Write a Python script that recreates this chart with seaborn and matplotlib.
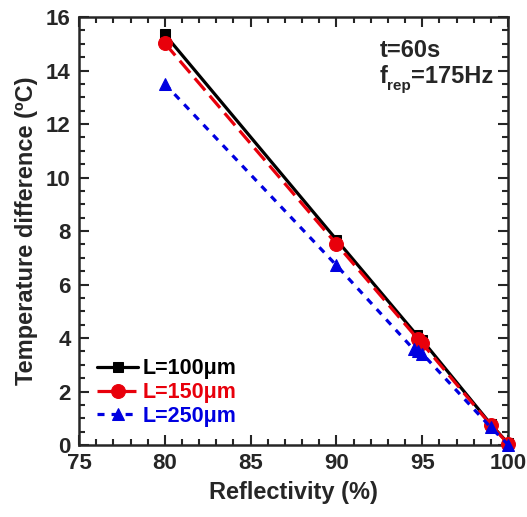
import matplotlib
matplotlib.use("Agg")
import matplotlib.pyplot as plt
import seaborn as sns
import pandas as pd
from matplotlib.ticker import MultipleLocator

sns.set_style("ticks")
plt.rcParams['font.family'] = ['Liberation Sans', 'DejaVu Sans']
plt.rcParams['font.weight'] = 'bold'

refl_100 = [80, 90, 94.7, 95.0, 99, 100]
temp_100 = [15.35, 7.68, 4.1, 3.92, 0.78, 0.07]
refl_150 = [80, 90, 94.75, 95.0, 99, 100]
temp_150 = [15.02, 7.52, 3.96, 3.8, 0.75, 0.06]
refl_250 = [80, 90, 94.5, 94.75, 95.0, 99, 100]
temp_250 = [13.5, 6.72, 3.58, 3.5, 3.42, 0.66, 0.02]

labels = ["L=100\u03bcm", "L=150\u03bcm", "L=250\u03bcm"]
colors = ["black", "#e8000b", "#0000e0"]
markers = ["s", "o", "^"]
msizes = [7, 10, 8]
styles = ["-", (0, (5, 2.2)), (0, (2.2, 2.2))]

fig = plt.figure(figsize=(5.27, 5.17), dpi=100)
ax = fig.add_axes([0.150, 0.139, 0.814, 0.828])

series = [(refl_100, temp_100), (refl_150, temp_150), (refl_250, temp_250)]
for (xs, ys), lab, c, m, ms, ls in zip(series, labels, colors, markers, msizes, styles):
    df = pd.DataFrame({"x": xs, "y": ys})
    sns.lineplot(data=df, x="x", y="y", ax=ax, color=c, marker=m, markersize=ms,
                 markeredgecolor=c, linewidth=2.3, linestyle=ls, label=lab, sort=False,
                 estimator=None, clip_on=False, zorder=3)

ax.set_xlim(75, 100)
ax.set_ylim(0, 16)
ax.xaxis.set_major_locator(MultipleLocator(5))
ax.xaxis.set_minor_locator(MultipleLocator(1))
ax.yaxis.set_major_locator(MultipleLocator(2))
ax.yaxis.set_minor_locator(MultipleLocator(0.5))
ax.tick_params(which='both', direction='in', top=True, right=True, width=1.5)
ax.tick_params(which='major', length=7, labelsize=16, pad=6)
ax.tick_params(which='minor', length=4)
for sp in ax.spines.values():
    sp.set_linewidth(1.8)
    sp.set_visible(True)

ax.set_xlabel("Reflectivity (%)", fontsize=17, fontweight='bold', labelpad=5)
ax.set_ylabel("Temperature difference (\u00baC)", fontsize=17, fontweight='bold', labelpad=6)

ax.text(0.70, 0.923, "t=60s", transform=ax.transAxes, fontsize=17, fontweight='bold',
        ha='left', va='center')
ax.annotate("f", xy=(0.70, 0.845), xycoords='axes fraction', fontsize=17,
            fontweight='bold', ha='left', va='baseline')
ax.annotate("rep", xy=(0.70, 0.845), xycoords='axes fraction', xytext=(5.5, -4.5),
            textcoords='offset points', fontsize=11, fontweight='bold', ha='left', va='baseline')
ax.annotate("=175Hz", xy=(0.70, 0.845), xycoords='axes fraction', xytext=(23, 0),
            textcoords='offset points', fontsize=17, fontweight='bold', ha='left', va='baseline')

leg = ax.legend(loc='lower left', bbox_to_anchor=(0.012, 0.013), frameon=False, fontsize=15.5,
                handlelength=1.9, handletextpad=0.2, labelspacing=0.12, borderaxespad=0.2)
for t, c in zip(leg.get_texts(), colors):
    t.set_color(c)
    t.set_fontweight('bold')

fig.savefig("out.png", dpi=100)
